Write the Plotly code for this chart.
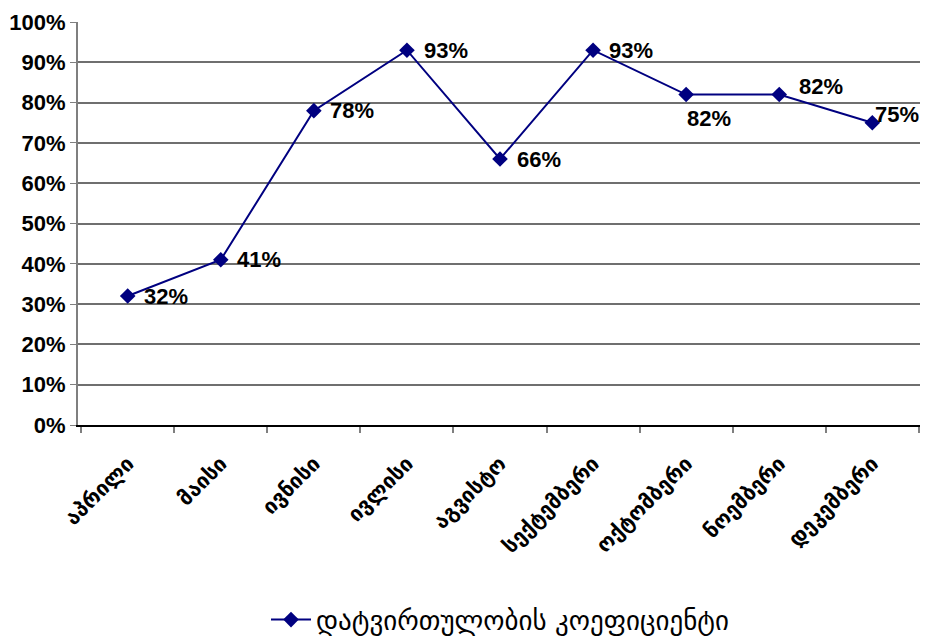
import plotly.graph_objects as go

months = ["აპრილი", "მაისი", "ივნისი", "ივლისი", "აგვისტო",
          "სექტემბერი", "ოქტომბერი", "ნოემბერი", "დეკემბერი"]
load_factor = [32, 41, 78, 93, 66, 93, 82, 82, 75]
series_name = "დატვირთულობის კოეფიციენტი"

# label placement (pixel shifts) per point
label_dx = [14, 14, 14, 15, 15, 14, -1, 18, 1]
label_dy = [0, 0, 0, 0, 0, 0, -24, 8, 8]

NAVY = "#000080"

fig = go.Figure()
fig.add_trace(go.Scatter(
    x=months, y=load_factor, mode="lines+markers", name=series_name,
    line=dict(color=NAVY, width=2),
    marker=dict(symbol="diamond", size=12, color=NAVY),
    showlegend=True,
))

for m, v, dx, dy in zip(months, load_factor, label_dx, label_dy):
    fig.add_annotation(
        x=m, y=v, text=f"{v}%", showarrow=False,
        xanchor="left", yanchor="middle", xshift=dx, yshift=dy,
        font=dict(family="Liberation Sans, Arial", size=22, color="black", weight="bold"),
    )

# page body has an 8px margin; figure is sized/positioned to compensate
fig.update_layout(
    width=920, height=628,
    margin=dict(l=70, r=6, t=14, b=211, autoexpand=False),
    paper_bgcolor="white", plot_bgcolor="white",
    showlegend=True,
    legend=dict(
        orientation="h", x=0.5, xanchor="center", y=-0.484, yanchor="middle",
        font=dict(family="DejaVu Sans", size=27, color="black"),
        itemwidth=40,
    ),
)

fig.update_yaxes(
    range=[0, 100], dtick=10, ticksuffix="%", automargin=False,
    showgrid=True, gridcolor="#6f6f6f", gridwidth=1.5,
    showline=True, linecolor="#7f7f7f", linewidth=2,
    ticks="outside", ticklen=6, tickcolor="#7f7f7f", tickwidth=1,
    tickfont=dict(family="Liberation Sans, Arial", size=22, color="black", weight="bold"),
    zeroline=False,
)
fig.update_xaxes(
    type="category", tickson="boundaries", automargin=False,
    showgrid=False, showline=True, linecolor="black", linewidth=2,
    ticks="outside", ticklen=6, tickcolor="#7f7f7f", tickwidth=2,
    tickangle=-45, ticklabelstandoff=16,
    tickfont=dict(family="DejaVu Sans", size=21, color="black", weight="bold"),
)

fig.write_html("out.html")
